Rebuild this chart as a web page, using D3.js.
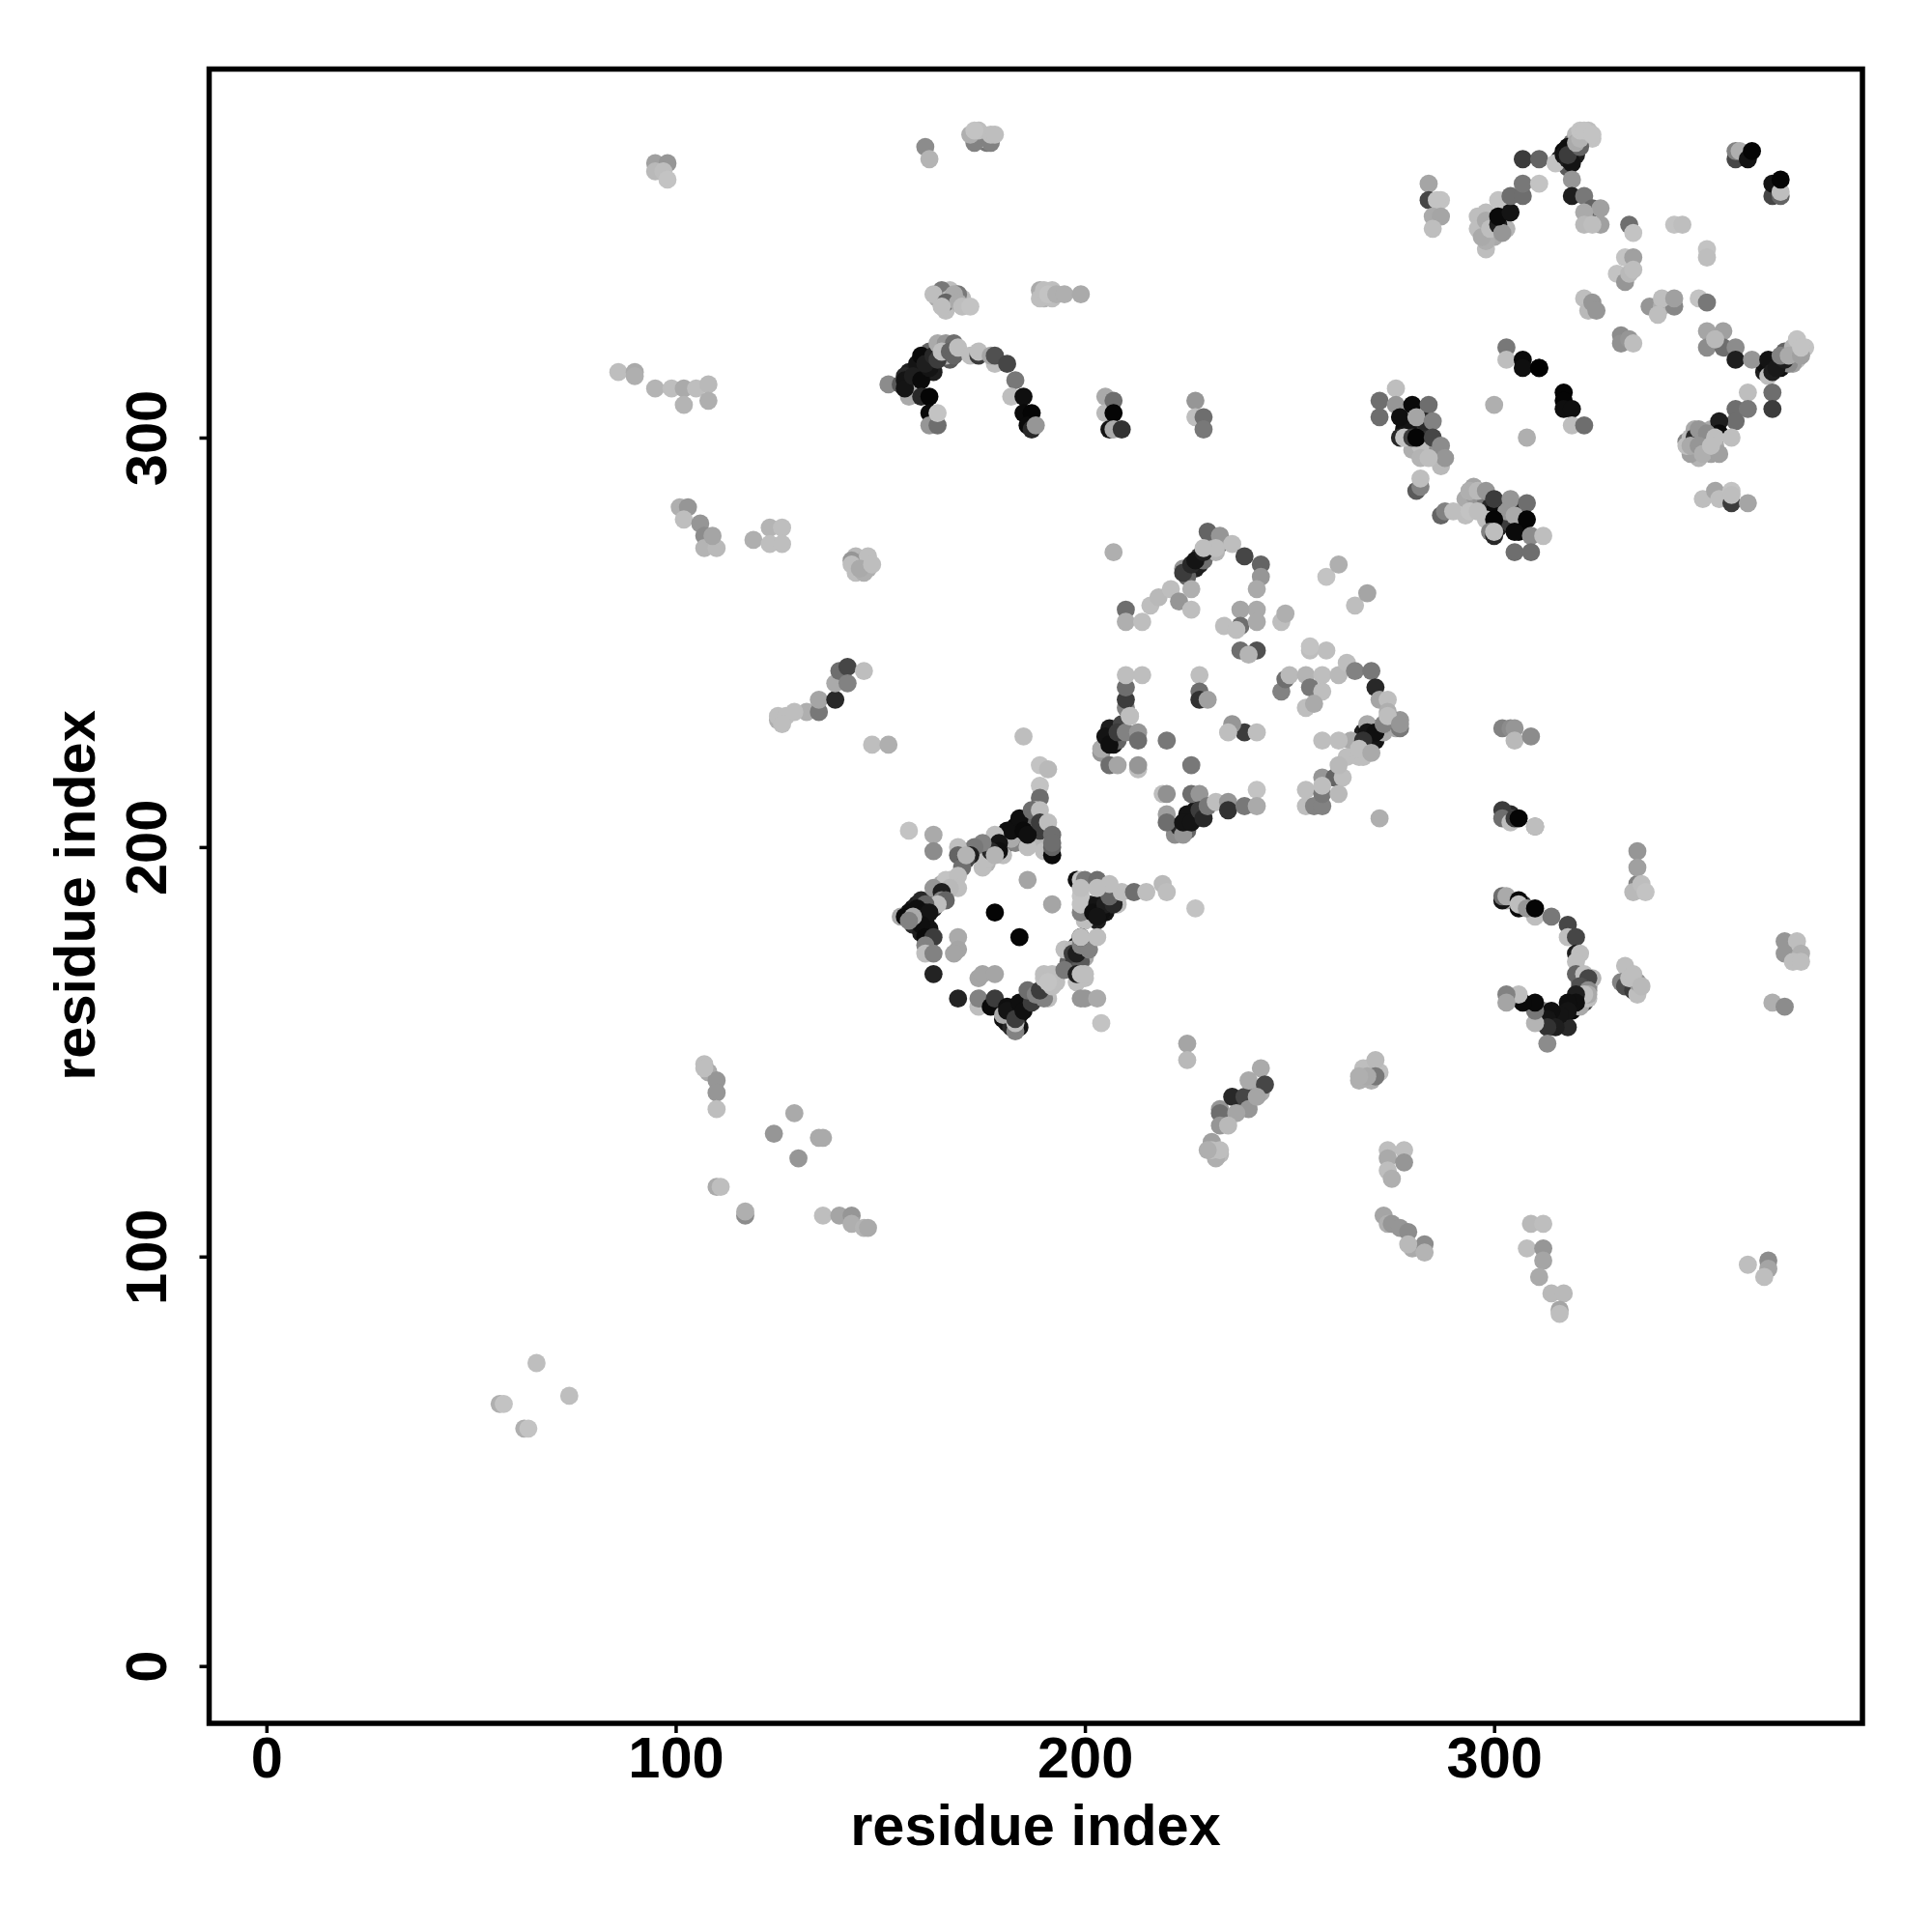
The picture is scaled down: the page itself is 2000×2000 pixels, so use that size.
<!DOCTYPE html>
<html><head><meta charset="utf-8">
<script src="https://cdn.jsdelivr.net/npm/d3@7"></script>
<style>html,body{margin:0;background:#fff}svg{display:block}</style></head>
<body><div id="c"></div><script>
const xTicks=[0,100,200,300];
const yTicks=[0,100,200,300];
const axisTitle="residue index";
// each entry: residue x, residue y, shade level (0 black .. 200 light)
const bandsOne=[[158,185,20],[159,186,30],[160,187,40],[162,186,20],[163,187,60],[164,188,110],[157,184,15],[159,182,20],[161,182,10],[160,183,10],[158,181,40],[160,179,30],[162,180,20],[163,185,40],[165,188,100],[165,191,170],[167,192,190],[168,191,195],
[180,203,20],[181,204,15],[183,205,10],[184,205,10],[185,206,20],[186,205,10],[184,202,170],[187,207,100],[188,201,180],[189,204,60],[176,200,60],[174,199,40],[172,199,90],[170,199,60],[177,201,100],[180,200,15],[180,198,190],[176,196,180],
[179,161,15],[180,158,15],[181,157,20],[182,159,15],[183,160,10],[184,159,15],[185,161,20],[186,163,40],[187,164,70],[188,163,60],[182,156,40],[184,156,20],[183,156,10],[191,163,190],[190,166,190],[193,167,190],
[197,172,30],[198,176,30],[199,175,15],[196,172,100],[197,171,60],[198,171,70],[200,173,170],[199,172,90],[198,167,190],[200,168,190],
[201,184,10],[203,185,15],[203,182,30],[204,186,15],[205,184,20],[206,186,50],[207,188,60],[201,186,40],[200,182,190],[199,188,195],[206,189,130],[208,186,190]];
const bandsTwo=[[206,227,15],[207,225,20],[205,225,30],[207,226,40],[208,226,100],[206,229,30],[209,230,70],[210,234,130],[204,223,150],
[222,203,140],[224,204,30],[225,205,20],[226,207,10],[227,207,30],[228,208,70],[225,204,100],[223,205,40],[227,209,20],[229,209,100],
[225,268,50],[227,268,30],[228,271,60],[228,269,30],[229,270,110],[231,275,170],[233,274,100],[232,272,180],[225,266,100],[224,268,150],
[268,228,30],[270,229,20],[272,229,90],[269,226,40],[271,226,20],[273,228,170],[266,225,130],[265,226,170],[274,230,160],[275,231,190],[276,229,170]];
const bandsThree=[[157,316,30],[158,313,20],[159,316,15],[161,316,10],[161,319,25],[163,318,30],[163,316,30],[162,321,100],[165,320,130],[167,322,170],[165,322,170],[167,319,90],[166,320,180],[156,315,40],[158,311,170],
[316,157,30],[317,158,15],[319,160,10],[318,156,40],[315,159,15],[314,158,10],[312,160,140],[321,163,30],[322,162,70],[321,161,170],[323,166,120],[321,167,80],[324,168,180],[323,163,190],[322,168,170],[321,165,100],
[318,369,25],[320,369,30],[319,371,15],[317,370,10],[316,368,30],[319,372,110],[320,374,185],[322,373,190],[323,375,190],[324,373,195],[318,366,90],
[299,350,160],[300,349,170],[297,352,175],[298,355,190],[300,352,160],[298,346,190],[301,353,20],[302,353,60],[303,351,180],
[278,302,15],[281,303,10],[283,302,50],[279,303,20],[285,298,150],[283,296,140],[286,295,150],[280,297,175],[282,298,190],[287,295,160],[293,285,170],[295,286,155],[297,284,150],[298,285,120],[299,283,40],[301,283,80],[300,282,10],[301,278,30],[304,279,60],[306,282,40],[307,279,40],[306,277,5],[293,281,190],[298,280,190],[303,282,150],
[347,299,130],[348,300,190],[349,302,170],[350,300,140],[351,298,170],[352,300,120],[353,296,160],[349,296,150],[350,295,180],[348,296,160],[347,298,190],[354,298,170],[353,302,170],
[366,316,30],[368,318,20],[367,317,10],[369,319,40],[370,317,15],[371,321,100],[373,322,180],[375,321,170],[374,319,190],[376,322,195],[373,318,160],[366,318,15],[372,318,140]];
const bandsFour=[[164,334,170],[166,335,150],[167,336,190],[165,335,190],[168,333,150],[170,334,185],[169,335,120],[166,331,190],
[144,271,185],[146,270,175],[145,269,190],[147,269,185],[144,267,190],[146,268,190],[147,268,175],
[174,373,190],[175,374,160],[176,372,120],[175,373,190],[189,336,170],[190,334,180],[192,334,190],[192,336,190],
[304,208,40],[304,207,90],[303,187,170],[307,186,50],
[268,145,190],[270,143,175],[270,146,190],[272,145,190],[267,143,175],[233,125,185],[232,124,175],[231,128,160],[233,136,150],[238,138,70],[241,140,130],[243,140,170]];
const lowerLeft=[[57,64,175],[58,64,195],[63,58,175],[64,58,195],[66,74,190],[74,66,190],
[107,147,190],[108,145,170],[110,143,150],[110,140,150],[110,136,190],[107,146,190],[110,117,170],[111,117,190],[117,110,140],[117,111,175],
[129,135,170],[124,130,150],[135,129,170],[136,129,170],[130,124,150],[136,110,190],[140,110,165],[143,110,150],[143,108,175],[146,107,180],[147,107,170]];
const upperLeft=[[86,316,190],[90,316,170],[90,315,175],[95,312,180],[99,312,190],[102,312,170],[102,308,180],[105,312,190],[108,313,185],[108,309,175],
[101,283,175],[103,283,150],[102,280,190],[106,279,150],[107,276,140],[107,273,180],[110,273,185],[109,276,165],
[119,275,175],[123,278,180],[126,278,190],[123,274,190],[126,274,190],
[143,270,150],[147,271,190],[146,267,175],[143,269,190],[145,268,170],[148,269,190],
[125,231,175],[125,232,190],[127,232,190],[132,233,175],[135,233,120],[135,236,165],[139,236,40],[139,240,170],[140,243,110],[142,244,70],[142,240,130],[146,243,190],[129,233,190],[126,230,190],[148,225,190],[152,225,175],[185,227,190]];
const topMiddle=[[95,367,160],[98,367,150],[95,365,185],[97,365,190],[98,363,195],[161,371,140],[162,368,180],
[173,372,130],[177,372,130],[172,374,175],[174,375,190],[177,374,190],[178,374,190],[173,375,195],
[165,336,120],[163,335,190],[167,334,185],[168,335,170],[166,333,100],[169,333,170],[170,332,190],[165,332,190],[172,332,195],
[189,334,190],[190,336,190],[191,335,195],[193,335,175],[195,335,175],[199,335,170]];
const arc=[[152,313,140],[155,313,90],[157,310,170],[156,314,20],[156,312,20],[159,318,20],[158,315,30],[160,314,10],[160,320,10],[162,317,20],[161,318,30],[163,320,40],[164,319,60],
[160,310,40],[162,310,5],[162,306,10],[162,303,150],[164,303,110],[164,306,195],[164,323,170],[166,323,150],[168,323,110],[165,321,190],[167,321,100],[168,320,100],[169,322,190],
[172,320,190],[174,320,60],[174,321,190],[178,318,190],[177,320,165],[178,320,80],[181,318,70],[183,314,120],[182,310,190],[185,310,15],[185,306,10],[187,306,5],[186,303,10],[187,302,40],[188,303,150],
[205,310,170],[205,306,185],[207,309,110],[207,306,5],[206,302,20],[207,302,170],[209,302,50],[227,309,150],[227,305,190],[229,305,110],[229,302,120]];
const diamondOne=[[157,204,195],[163,203,170],[163,199,140],[189,220,195],[191,219,185],[189,215,195],[189,212,110],
[183,201,130],[186,200,190],[182,202,170],[182,204,15],[184,207,15],[185,204,10],[186,203,15],[188,209,190],[187,209,110],[189,209,190],[189,206,60],[191,206,190],[192,203,110],[190,199,190],[192,198,190],[192,198,10],[192,200,100],[192,201,110],
[178,203,190],[179,201,20],[179,199,15],[175,195,190],[176,197,190],[177,199,40],[175,201,130],[173,200,120],[172,198,30],[169,200,190],[169,198,100],[171,197,70],[170,195,110],[171,198,180],[178,198,180],
[186,192,165],[192,186,165],[178,184,5],[184,178,5],
[166,192,195],[169,193,190],[169,190,190],[167,190,185],[163,190,150],[165,189,30],[165,187,130],[166,187,100],[164,186,190],
[161,186,100],[159,185,15],[161,184,15],[162,184,20],[158,183,15],[160,181,15],[155,183,170],[156,183,10],[158,183,170],[157,182,130],[161,178,10],[163,178,60],[161,176,130],[161,174,190],[163,174,130],[169,178,170],[169,175,165],[168,174,165],
[163,169,35],[169,163,35],[174,161,190],[174,163,130],[174,168,165],[175,169,165],[178,169,165],
[177,161,10],[178,163,60],[180,159,170],[181,161,15],[181,160,20],[183,155,130],[183,157,190],[183,158,60],[184,162,15],[185,160,15],[187,162,60],[186,165,110],[188,164,130],[190,163,130],[189,165,60],[190,168,195],[192,166,190],[190,169,190],[192,169,190],[191,167,195],
[195,170,120],[198,169,30],[199,169,190],[200,169,190],[195,175,190],[197,175,185],[197,174,60],[198,174,30],[199,176,130],[201,175,130],[199,178,20],[199,178,190],[203,178,190],
[199,163,150],[200,163,150],[203,163,170],[204,157,195],
[199,184,130],[199,186,195],[203,186,20],[202,184,15],[204,184,15],[205,186,30],[207,186,40],[206,188,100],[203,183,20],[209,189,190],[212,189,110],[215,189,190],[219,191,185],[220,189,190],
[198,192,15],[199,192,195],[200,192,120],[203,192,110],[199,190,190],[206,191,190],[203,190,190],[227,185,195]];
const diamondTwoLeft=[[204,224,170],[205,227,20],[206,225,15],[208,228,60],[210,228,130],[211,232,195],[213,228,150],[213,226,110],[206,220,110],[208,220,165],[213,219,190],[213,220,150],
[220,226,120],[226,220,120],[219,213,190],[220,213,145],[220,208,160],[220,206,110],
[226,213,110],[228,213,150],[224,203,150],[225,208,20],[224,206,20],[226,206,20],[228,209,60],[229,207,40],[230,210,120],[232,211,190],[235,211,150],[235,209,50],[239,210,120],
[239,228,60],[236,230,150],[235,228,190],[242,228,190],[242,214,195],[242,210,170],
[210,236,60],[210,239,110],[210,242,190],[211,232,190],[214,242,190],[228,242,190],[228,238,110],[228,236,50],[230,236,160]];
const diamondTwoTop=[[210,258,110],[210,255,175],[214,255,190],[216,259,190],[218,261,185],[221,263,190],[223,260,150],[226,258,190],[226,263,175],[224,267,60],[226,269,40],[227,270,20],[229,272,30],[230,277,100],[233,276,150],[236,274,190],[232,273,190],[229,273,190],
[239,271,70],[243,269,100],[243,266,150],[242,263,170],[242,258,170],[238,258,165],[238,254,110],[242,255,170],[234,254,190],[237,253,190],[238,248,110],[242,248,80],[240,247,180],[248,255,190],[249,257,175],
[248,238,130],[249,241,110],[250,242,185],[255,248,190],[259,248,190],[255,249,195],[254,242,180],[258,242,190],[262,242,185],[255,239,120],[258,238,190],[254,234,190],[256,235,170],[264,245,190],[266,243,130],[270,243,120],[271,239,40],[272,236,165],[274,236,190],[274,233,175],
[277,231,150],[277,229,120],[259,266,195],[262,269,175],[266,259,190],[269,262,165],[207,272,175]];
const diamondTwoRight=[[258,226,190],[262,226,190],[272,207,175],[254,214,190],[254,210,190],[256,210,130],[258,210,130],[258,213,120],[258,217,150],[261,217,100],[263,217,190],[258,215,190],[262,213,185],[264,222,190],[262,220,185],[267,222,190],
[269,230,170],[269,228,20],[271,228,15],[268,226,50],[273,230,130],[274,232,190],[277,230,150],[268,222,190],[267,224,190],[270,223,170]];
const bottomMiddle=[[225,152,165],[225,148,185],[233,135,110],[236,139,40],[239,139,70],[240,143,170],[243,146,170],[244,142,70],[240,136,150],[242,139,165],[237,135,165],[233,132,150],[235,132,185],[231,126,190],[233,126,190],[230,126,175],
[269,146,190],[268,146,190],[271,148,185],[271,144,120],[269,144,170],[267,144,175],
[274,126,190],[278,126,190],[274,124,170],[278,123,150],[274,121,190],[275,119,175],
[273,110,165],[274,108,175],[275,108,150],[277,107,150],[279,106,140],[280,102,170],[283,103,140],[283,101,180],[279,103,185],
[309,108,185],[312,108,190],[308,102,190],[312,102,150],[312,99,165],[311,95,170],[314,91,185],[317,91,185],[316,87,165],[316,86,190],[362,98,190],[367,99,140],[367,97,165],[366,95,190]];
const hook=[[302,229,130],[304,229,140],[305,229,150],[305,226,185],[309,227,140],[302,209,60],[302,207,110],[304,206,190],[305,207,60],[306,207,5],[310,205,130],[310,205,190],
[302,187,20],[302,188,110],[303,188,170],[306,187,10],[306,185,10],[306,186,190],[310,183,190],[308,185,150],[310,185,5],[314,183,120],[318,181,70],[318,178,190],[320,178,70],[320,174,30],[321,174,190],[320,172,190],[320,169,100],[322,169,190],[323,168,70],[321,166,80],[323,165,140],[323,164,170],[322,164,190],
[320,164,30],[320,162,15],[318,162,15],[318,160,20],[316,159,20],[314,160,15],[313,158,20],[315,156,30],[313,156,50],[313,152,140],[310,157,180],[310,160,120],[310,162,10],[307,162,10],[306,164,190],[303,164,130],[303,162,165],
[335,191,130],[335,199,150],[335,195,160],[334,189,185],[336,191,190],[337,189,195],[332,171,190],[331,167,130],[332,166,80],[334,165,60],[335,164,190],[335,167,150],[333,168,190],[334,169,190],[336,166,185],
[371,177,150],[374,177,190],[371,174,150],[375,174,175],[373,172,190],[375,172,190],[368,162,175],[371,161,140]];
const centreRight=[[276,312,190],[272,309,110],[272,305,110],[276,308,150],[280,308,10],[284,308,110],[277,305,15],[283,304,40],[281,305,165],[285,304,130],
[277,300,40],[278,300,195],[280,300,60],[281,300,5],[285,300,70],[287,298,140],[287,293,185],[288,295,150],[282,295,180],[284,295,190],[281,287,90],[282,288,130],[282,290,190],
[287,281,100],[288,282,130],[290,282,190],[294,282,195],[294,287,190],[295,288,165],[294,287,175],[296,287,185],[298,287,150],[296,282,190],[300,285,60],[300,280,5],[299,277,130],[300,276,40],[300,277,190],[304,285,150],[308,284,110],[305,281,170],[308,280,5],[305,277,10],[309,276,140],[312,276,190],[305,272,110],[309,272,110],
[303,322,120],[303,319,190],[307,319,10],[307,317,15],[311,317,5],[311,317,0],[317,311,5],[317,309,5],[317,307,15],[319,307,15],[319,303,190],[322,303,110],[300,308,175],[308,300,175]];
const topRight=[[284,362,165],[284,358,70],[287,358,195],[286,358,195],[285,354,170],[287,354,165],[285,351,190],
[296,354,190],[301,358,195],[296,351,190],[298,353,170],[298,348,175],[297,349,170],[299,351,190],[301,352,30],[302,350,150],[301,354,10],[304,355,20],[304,359,110],[307,359,110],[307,362,120],[311,362,195],
[307,368,60],[311,368,100],[315,367,195],[317,369,20],[318,371,15],[318,368,30],[319,367,20],[318,369,60],[321,371,100],[320,372,170],[321,373,180],[321,375,195],[322,375,195],[324,374,195],
[319,363,150],[319,359,30],[322,359,120],[324,356,100],[326,356,160],[322,355,170],[322,352,185],[326,352,160],[324,352,190],
[333,352,110],[334,350,195],[344,352,195],[346,352,190],[352,346,195],[352,344,190],
[332,344,195],[334,344,160],[330,340,195],[332,338,150],[333,340,185],[334,341,190],[322,334,190],[323,331,185],[324,333,150],[325,331,150],
[338,332,150],[341,332,175],[344,332,135],[341,334,190],[344,334,160],[340,330,190],[350,334,195],[352,333,120],[331,325,140],[331,323,145],[333,324,150],[334,323,190],
[352,326,165],[356,326,160],[352,322,140],[356,322,110],[354,324,185],[359,322,140],[359,319,30],[363,319,150],
[367,315,190],[367,319,20],[368,316,30],[369,317,25],[371,319,30],[370,320,130],[372,320,170],[375,320,160],[374,324,195],[375,322,195],
[368,311,110],[362,311,190],[368,307,60],[359,307,110],[362,307,120],[359,304,110],[355,304,30],[355,301,10],[358,300,190],
[349,300,40],[350,302,150],[348,298,170],[352,301,140],[350,298,150],[351,296,175],[355,296,160],[354,300,190],[353,298,190],
[351,285,190],[354,287,165],[355,285,190],[358,284,60],[358,287,195],[358,286,190],[362,284,165],
[359,368,70],[359,370,130],[360,370,175],[362,368,20],[363,370,5],[368,359,70],[370,359,100],[368,362,20],[370,360,190],[370,363,5]];

const contacts=[bandsOne,bandsTwo,bandsThree,bandsFour,lowerLeft,upperLeft,topMiddle,arc,diamondOne,diamondTwoLeft,diamondTwoTop,diamondTwoRight,bottomMiddle,hook,centreRight,topRight].flat();

const svg=d3.select("#c").append("svg").attr("width",2000).attr("height",2000);
const x=d3.scaleLinear().domain([-14,390]).range([216.5,1928]);
const y=d3.scaleLinear().domain([-14,390]).range([1784,71.5]);
const shade=d3.scaleLinear().domain([0,200]).range(["#000000","#c8c8c8"]);
const FONT='"Liberation Sans",Arial,sans-serif';
const FS=59.5;

svg.append("g").selectAll("circle").data(contacts).join("circle")
  .attr("cx",d=>x(d[0])).attr("cy",d=>y(d[1])).attr("r",9.4).attr("fill",d=>shade(d[2]));

svg.append("rect").attr("x",216.5).attr("y",71.5).attr("width",1711.5).attr("height",1712.5)
  .attr("fill","none").attr("stroke","#000").attr("stroke-width",5.5);

const gx=svg.append("g").attr("transform","translate(0,1784)")
  .call(d3.axisBottom(x).tickValues(xTicks).tickSize(10).tickPadding(4).tickFormat(d3.format("d")));
const gy=svg.append("g").attr("transform","translate(216.5,0)")
  .call(d3.axisLeft(y).tickValues(yTicks).tickSize(10).tickPadding(0).tickFormat(d3.format("d")));
gx.select(".domain").remove(); gy.select(".domain").remove();
svg.selectAll(".tick line").attr("stroke","#000").attr("stroke-width",3.5);
gx.selectAll("text").attr("font-family",FONT).attr("font-weight","bold").attr("font-size",FS).attr("fill","#000");
gy.selectAll("text").attr("font-family",FONT).attr("font-weight","bold").attr("font-size",FS).attr("fill","#000")
  .attr("text-anchor","middle").attr("dy",0).attr("x",0)
  .attr("transform",function(d){return "translate(-45,0) rotate(-90)";});
svg.append("text").attr("x",1072).attr("y",1910).attr("text-anchor","middle")
  .attr("font-family",FONT).attr("font-weight","bold").attr("font-size",FS).text(axisTitle);
svg.append("text").attr("transform","translate(98,927) rotate(-90)").attr("text-anchor","middle")
  .attr("font-family",FONT).attr("font-weight","bold").attr("font-size",FS).text(axisTitle);
</script></body></html>
